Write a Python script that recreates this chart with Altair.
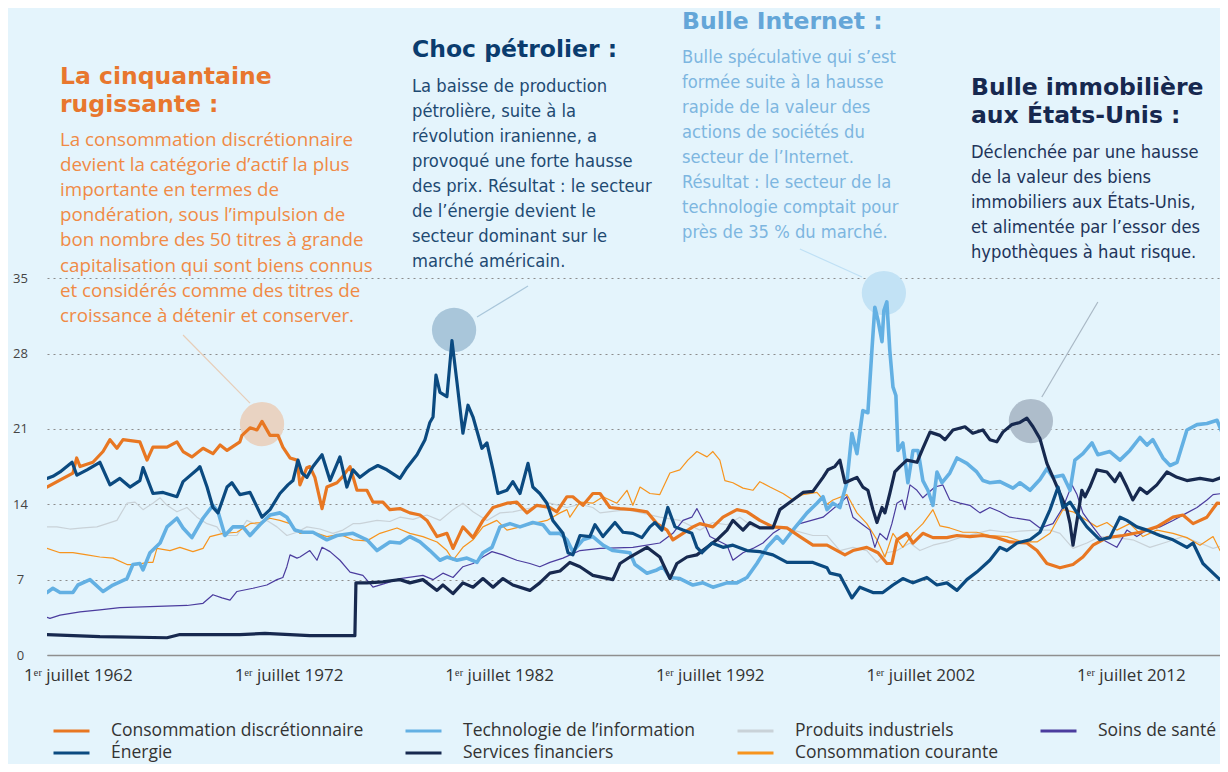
import altair as alt
import pandas as pd

# ---------------- data ----------------
SERIES = ["Consommation discrétionnaire", "Technologie de l’information", "Produits industriels",
          "Soins de santé", "Énergie", "Services financiers", "Consommation courante"]
COLORS = ["#E87722", "#63B0E3", "#C9D2D8", "#4B3C9E", "#0B4A80", "#17294F", "#F7941D"]

CD_YEARS = [1961.03, 1962.26, 1962.44, 1962.60, 1963.21, 1963.69, 1964.02, 1964.35, 1964.64, 1965.44, 1965.78, 1966.06,
            1966.73, 1967.20, 1967.49, 1967.91, 1968.44, 1968.91, 1969.25, 1969.58, 1970.19, 1970.29, 1970.67, 1971.00,
            1971.24, 1971.62, 1972.00, 1972.23, 1972.57, 1972.90, 1973.04, 1973.37, 1973.51, 1973.75, 1974.09, 1974.32,
            1974.80, 1975.04, 1975.42, 1975.75, 1976.22, 1976.51, 1976.98, 1977.31, 1977.79, 1978.26, 1978.74, 1979.07,
            1979.55, 1980.02, 1980.31, 1980.78, 1981.26, 1981.73, 1982.21, 1982.87, 1983.34, 1983.82, 1984.29, 1984.91,
            1985.24, 1985.72, 1986.00, 1986.48, 1986.95, 1987.29, 1987.76, 1988.24, 1988.85, 1989.52, 1989.99, 1990.47,
            1990.75, 1991.23, 1991.70, 1992.03, 1992.65, 1993.13, 1993.79, 1994.27, 1994.88, 1995.50, 1996.17, 1996.78,
            1997.40, 1998.07, 1998.92, 1999.30, 1999.96, 2000.49, 2000.91, 2001.15, 2001.39, 2001.86, 2002.15, 2002.62,
            2003.10, 2003.76, 2004.24, 2004.85, 2005.47, 2006.13, 2006.75, 2007.56, 2008.04, 2008.51, 2009.13, 2009.75,
            2010.22, 2010.70, 2011.36, 2012.12, 2012.93, 2013.73, 2014.50, 2014.97, 2015.45, 2016.11, 2016.59, 2017.11]
CD_VALUES = [15.6, 16.9, 18.3, 17.5, 17.9, 18.9, 20.0, 19.2, 20.0, 19.8, 18.1, 19.3,
             19.3, 19.8, 18.9, 18.4, 19.2, 18.7, 19.5, 19.0, 19.8, 20.4, 21.1, 20.9,
             21.7, 20.4, 20.4, 19.3, 18.3, 18.1, 15.8, 17.4, 17.5, 16.5, 13.6, 15.6,
             16.0, 16.5, 17.5, 15.3, 15.3, 14.2, 14.2, 13.5, 13.6, 13.2, 13.0, 12.5,
             11.0, 11.3, 9.9, 11.9, 10.9, 12.5, 13.7, 14.1, 14.2, 13.2, 13.9, 13.7,
             13.3, 14.7, 14.7, 13.9, 15.0, 15.0, 13.7, 13.6, 13.5, 13.3, 12.2, 11.6,
             10.7, 11.3, 11.9, 12.2, 11.9, 12.8, 13.5, 13.3, 12.5, 11.9, 11.8, 11.0,
             10.2, 10.2, 9.3, 9.7, 10.0, 9.5, 8.5, 8.5, 10.7, 11.3, 10.4, 11.3,
             10.9, 10.9, 11.1, 11.0, 11.1, 10.9, 10.5, 10.4, 9.7, 8.5, 8.1, 8.4,
             9.1, 10.2, 10.9, 11.1, 11.4, 11.9, 12.8, 13.0, 12.2, 12.8, 14.1, 14.0]

EN_YEARS = [1961.03, 1961.31, 1961.65, 1962.22, 1962.45, 1962.93, 1963.54, 1964.02, 1964.49, 1964.97, 1965.44, 1965.59,
            1966.06, 1966.54, 1967.20, 1967.49, 1968.15, 1968.29, 1968.63, 1968.91, 1969.15, 1969.58, 1969.81, 1970.19,
            1970.67, 1971.24, 1971.62, 1972.09, 1972.47, 1972.71, 1972.95, 1973.14, 1973.37, 1973.66, 1974.09, 1974.47,
            1974.94, 1975.27, 1975.56, 1975.89, 1976.36, 1976.74, 1977.17, 1977.79, 1978.12, 1978.60, 1978.98, 1979.21,
            1979.36, 1979.50, 1979.69, 1980.02, 1980.26, 1980.50, 1980.78, 1981.02, 1981.26, 1981.68, 1981.92, 1982.21,
            1982.44, 1982.87, 1983.15, 1983.49, 1983.87, 1984.10, 1984.43, 1984.77, 1985.05, 1985.53, 1985.77, 1986.00,
            1986.34, 1986.81, 1987.05, 1987.43, 1988.00, 1988.38, 1988.85, 1989.28, 1989.66, 1989.90, 1990.23, 1990.51,
            1990.85, 1991.23, 1991.65, 1991.89, 1992.13, 1992.60, 1993.13, 1993.60, 1994.27, 1994.88, 1995.50, 1996.17,
            1997.40, 1998.07, 1998.21, 1998.68, 1999.25, 1999.63, 2000.25, 2000.72, 2001.20, 2001.67, 2002.15, 2002.81,
            2003.29, 2003.76, 2004.24, 2004.71, 2005.18, 2005.80, 2006.28, 2006.61, 2007.09, 2007.71, 2008.18, 2008.66,
            2009.04, 2009.27, 2009.61, 2009.94, 2010.41, 2011.03, 2011.50, 2011.98, 2012.31, 2012.78, 2013.26, 2013.88,
            2014.50, 2015.16, 2015.45, 2015.92, 2016.40, 2016.73, 2017.11]
EN_VALUES = [16.4, 16.6, 17.0, 17.9, 16.7, 17.2, 17.9, 15.8, 16.4, 15.6, 16.2, 17.4,
             15.0, 15.1, 14.7, 16.1, 17.2, 17.5, 15.6, 13.7, 13.2, 15.6, 16.0, 14.9,
             15.1, 12.8, 13.5, 15.0, 15.8, 16.2, 18.1, 16.9, 16.5, 17.5, 18.6, 16.2,
             18.4, 15.6, 17.2, 16.5, 17.2, 17.6, 17.2, 16.4, 17.4, 18.6, 20.0, 21.6,
             22.1, 26.0, 24.4, 24.0, 29.2, 25.3, 20.6, 23.2, 22.1, 19.2, 19.7, 17.2,
             15.0, 15.3, 16.1, 15.0, 17.8, 15.6, 15.0, 14.1, 12.5, 11.3, 9.5, 9.3,
             11.1, 11.0, 12.1, 11.0, 12.3, 11.4, 11.3, 10.9, 11.9, 12.3, 11.6, 13.7,
             11.9, 11.6, 11.3, 10.0, 9.5, 10.4, 10.0, 10.2, 9.7, 9.6, 9.3, 8.6,
             8.6, 8.1, 7.6, 7.4, 5.3, 6.3, 5.8, 5.8, 6.5, 7.1, 6.7, 7.2,
             6.5, 6.7, 6.0, 7.0, 7.7, 8.8, 10.0, 9.7, 10.4, 10.7, 11.4, 13.5,
             15.6, 13.7, 14.2, 13.2, 11.9, 10.7, 10.9, 12.8, 12.5, 11.9, 11.6, 11.1,
             10.7, 10.0, 10.4, 8.5, 7.6, 7.0, 7.0]

IT_YEARS = [1961.03, 1961.31, 1961.65, 1962.26, 1962.50, 1963.07, 1963.69, 1964.16, 1964.83, 1965.11, 1965.44, 1965.59,
            1965.92, 1966.40, 1966.73, 1967.20, 1967.49, 1967.91, 1968.44, 1968.91, 1969.15, 1969.48, 1969.86, 1970.33,
            1970.67, 1971.14, 1971.62, 1972.09, 1972.42, 1972.80, 1973.18, 1973.66, 1974.32, 1974.80, 1975.56, 1976.22,
            1976.70, 1977.31, 1977.79, 1978.26, 1978.74, 1979.21, 1979.69, 1980.02, 1980.50, 1980.97, 1981.45, 1981.73,
            1982.16, 1982.54, 1983.01, 1983.49, 1984.10, 1984.58, 1984.91, 1985.39, 1985.72, 1986.00, 1986.48, 1986.95,
            1987.43, 1987.90, 1988.71, 1988.95, 1989.52, 1989.99, 1990.28, 1990.61, 1991.08, 1991.70, 1992.18, 1992.65,
            1993.32, 1993.79, 1994.27, 1994.74, 1995.22, 1995.69, 1995.98, 1996.45, 1997.12, 1997.59, 1997.88, 1998.07,
            1998.35, 1998.68, 1999.01, 1999.25, 1999.49, 1999.77, 2000.01, 2000.20, 2000.34, 2000.49, 2000.68, 2000.77,
            2000.91, 2001.05, 2001.20, 2001.34, 2001.44, 2001.67, 2001.91, 2002.15, 2002.39, 2002.62, 2002.86, 2003.10,
            2003.29, 2003.53, 2003.90, 2004.24, 2004.71, 2005.18, 2005.47, 2005.80, 2006.28, 2006.90, 2007.23, 2007.71,
            2008.18, 2008.51, 2008.80, 2009.27, 2009.61, 2009.84, 2010.22, 2010.65, 2010.93, 2011.50, 2011.98, 2012.45,
            2012.93, 2013.26, 2013.54, 2014.02, 2014.36, 2014.69, 2015.16, 2015.64, 2016.11, 2016.59, 2016.82, 2017.11]
IT_VALUES = [5.8, 6.2, 5.8, 5.8, 6.5, 7.0, 5.9, 6.5, 7.1, 8.4, 8.5, 7.9,
             9.5, 10.4, 11.9, 12.7, 11.8, 10.9, 12.7, 13.9, 13.3, 11.1, 11.9, 11.9,
             11.1, 12.1, 13.0, 13.2, 12.8, 11.6, 11.4, 11.4, 10.7, 11.1, 11.3, 10.7,
             9.7, 10.5, 10.4, 11.0, 10.5, 9.7, 8.8, 9.1, 8.8, 9.0, 8.6, 9.5,
             10.0, 11.9, 12.2, 11.9, 12.3, 12.1, 11.3, 11.3, 10.7, 9.6, 10.7, 11.0,
             10.2, 9.7, 9.5, 8.4, 7.6, 7.9, 8.2, 7.2, 7.1, 6.5, 6.7, 6.3,
             6.7, 6.7, 7.2, 8.5, 10.0, 11.0, 10.4, 11.6, 13.2, 14.1, 14.7, 13.5,
             14.1, 13.7, 16.0, 20.6, 18.7, 22.7, 22.5, 28.3, 32.3, 31.1, 29.1, 32.0,
             32.8, 28.3, 24.9, 24.1, 19.0, 19.7, 16.0, 19.0, 19.0, 16.2, 15.3, 13.9,
             17.0, 16.0, 16.9, 18.3, 17.8, 17.0, 16.2, 16.0, 16.1, 15.5, 16.0, 15.3,
             16.3, 17.3, 16.5, 16.7, 15.3, 18.1, 18.7, 19.7, 18.6, 18.9, 18.1, 19.0,
             20.2, 19.5, 20.0, 18.3, 17.6, 17.9, 20.9, 21.4, 21.5, 21.8, 20.7, 20.4]

FI_YEARS = [1961.03, 1963.54, 1966.73, 1967.34, 1970.19, 1971.38, 1972.57, 1973.51, 1975.65, 1975.70, 1976.22, 1976.98,
            1977.79, 1978.26, 1978.88, 1979.55, 1979.83, 1980.31, 1980.78, 1981.26, 1981.73, 1982.21, 1982.68, 1983.15,
            1983.96, 1984.43, 1984.91, 1985.39, 1985.86, 1986.34, 1986.95, 1987.90, 1988.24, 1988.71, 1989.52, 1990.13,
            1990.61, 1990.94, 1991.42, 1991.89, 1992.37, 1992.84, 1993.32, 1993.60, 1994.08, 1994.41, 1994.88, 1995.50,
            1995.83, 1996.45, 1996.93, 1997.40, 1997.88, 1998.11, 1998.44, 1998.68, 1998.92, 1999.15, 1999.49, 1999.77,
            2000.01, 2000.25, 2000.44, 2000.68, 2000.82, 2001.05, 2001.29, 2001.53, 2001.86, 2002.34, 2002.62, 2002.96,
            2003.43, 2003.67, 2004.05, 2004.62, 2004.99, 2005.47, 2005.80, 2006.13, 2006.42, 2006.85, 2007.23, 2007.56,
            2007.85, 2008.18, 2008.51, 2008.80, 2009.13, 2009.46, 2009.61, 2009.75, 2009.94, 2010.17, 2010.32, 2010.55,
            2010.88, 2011.36, 2011.74, 2011.98, 2012.31, 2012.59, 2012.93, 2013.26, 2013.73, 2014.21, 2014.69, 2015.16,
            2015.78, 2016.40, 2016.82, 2017.11]
FI_VALUES = [1.9, 1.7, 1.6, 1.9, 1.9, 2.0, 1.9, 1.8, 1.8, 6.7, 6.7, 6.8,
             7.0, 6.7, 7.0, 6.0, 6.5, 5.7, 6.7, 6.3, 7.1, 6.3, 7.1, 6.5,
             6.0, 6.7, 7.6, 7.8, 8.6, 8.2, 7.4, 7.0, 8.5, 9.1, 10.0, 9.1,
             7.1, 8.5, 9.1, 9.3, 10.0, 10.7, 11.6, 12.5, 11.6, 12.3, 11.8, 11.8,
             13.5, 14.4, 15.1, 15.2, 16.5, 17.2, 17.5, 18.1, 16.0, 16.2, 16.5, 15.6,
             15.3, 13.5, 12.3, 13.7, 13.2, 15.0, 17.0, 17.5, 18.1, 17.9, 19.2, 20.7,
             20.4, 20.0, 20.9, 21.2, 20.6, 20.9, 20.0, 19.8, 20.7, 21.4, 21.6, 22.0,
             21.2, 20.1, 17.8, 16.5, 15.0, 13.5, 12.2, 10.2, 12.5, 15.3, 14.7, 15.6,
             17.2, 17.0, 16.1, 16.9, 15.6, 14.4, 15.5, 15.0, 15.8, 17.0, 16.5, 16.2,
             16.4, 16.2, 16.5, 15.6]

IN_YEARS = [1961.03, 1961.50, 1962.12, 1962.74, 1963.40, 1963.88, 1964.35, 1964.83, 1965.21, 1965.59, 1966.06, 1966.40,
            1966.73, 1967.20, 1967.68, 1968.15, 1968.63, 1969.10, 1969.39, 1970.05, 1970.52, 1971.00, 1971.47, 1971.95,
            1972.42, 1972.90, 1973.37, 1973.99, 1974.61, 1975.08, 1975.56, 1975.89, 1976.70, 1977.31, 1977.79, 1978.41,
            1979.07, 1979.69, 1980.31, 1980.78, 1981.26, 1981.92, 1982.54, 1983.15, 1984.10, 1984.91, 1985.72, 1986.34,
            1986.95, 1987.29, 1988.57, 1990.13, 1991.08, 1992.03, 1992.65, 1993.32, 1993.93, 1994.55, 1995.50, 1996.45,
            1997.40, 1998.07, 1998.68, 1999.30, 1999.96, 2000.44, 2000.91, 2001.39, 2002.01, 2002.48, 2003.10, 2003.76,
            2004.52, 2005.18, 2005.80, 2006.61, 2007.23, 2008.04, 2008.66, 2009.13, 2009.75, 2010.41, 2011.03, 2011.83,
            2012.59, 2013.40, 2014.21, 2014.97, 2015.78, 2016.40, 2017.11]
IN_VALUES = [11.9, 11.9, 11.7, 11.8, 11.9, 12.2, 12.5, 14.1, 14.2, 13.5, 14.1, 14.6,
             13.9, 13.3, 13.7, 12.8, 12.2, 11.9, 11.1, 11.1, 12.5, 12.1, 12.5, 11.9,
             11.1, 11.4, 11.9, 11.7, 11.3, 11.6, 12.2, 12.2, 12.5, 12.4, 12.8, 12.6,
             13.0, 12.5, 13.5, 14.1, 13.3, 12.5, 13.2, 13.3, 13.7, 14.1, 13.7, 14.0,
             13.7, 13.2, 13.5, 12.8, 12.5, 11.6, 12.3, 12.1, 12.8, 11.9, 11.9, 11.6,
             11.1, 11.1, 9.7, 10.0, 9.7, 8.6, 9.5, 9.7, 10.4, 9.7, 10.2, 10.5,
             11.0, 11.3, 11.6, 11.4, 11.5, 11.6, 11.6, 11.3, 9.9, 10.4, 11.0, 10.9,
             10.7, 10.0, 10.5, 11.0, 10.4, 9.9, 10.3]

CS_YEARS = [1961.03, 1961.65, 1962.26, 1962.93, 1963.54, 1964.16, 1964.83, 1965.30, 1965.78, 1966.06, 1966.25, 1966.87,
            1967.34, 1967.96, 1968.44, 1968.77, 1969.39, 1970.05, 1970.67, 1971.14, 1971.62, 1972.09, 1972.57, 1973.04,
            1973.85, 1974.32, 1974.94, 1975.56, 1976.22, 1976.84, 1977.65, 1978.26, 1978.88, 1979.55, 1980.02, 1980.31,
            1980.78, 1981.26, 1981.73, 1982.39, 1982.87, 1983.49, 1984.10, 1984.77, 1985.39, 1985.72, 1985.86, 1986.34,
            1986.95, 1987.43, 1988.09, 1988.57, 1988.85, 1989.19, 1989.66, 1990.13, 1990.61, 1991.08, 1991.46, 1991.89,
            1992.37, 1992.65, 1992.98, 1993.22, 1993.60, 1994.08, 1994.55, 1994.88, 1995.36, 1995.98, 1996.45, 1996.93,
            1997.59, 1998.07, 1998.35, 1999.01, 1999.49, 1999.96, 2000.44, 2000.82, 2001.20, 2001.67, 2002.15, 2002.62,
            2003.10, 2003.43, 2003.90, 2004.52, 2005.18, 2005.80, 2006.61, 2007.37, 2008.04, 2008.66, 2008.99, 2009.27,
            2009.75, 2010.41, 2010.88, 2011.36, 2011.83, 2012.45, 2013.07, 2013.73, 2014.50, 2015.16, 2015.78, 2016.40,
            2016.73, 2017.11]
CS_VALUES = [9.9, 9.5, 9.5, 9.3, 9.1, 9.0, 8.4, 8.4, 8.6, 8.6, 9.9, 9.7,
             10.0, 9.6, 9.9, 11.0, 11.3, 11.4, 12.2, 12.3, 12.7, 12.5, 12.2, 11.3,
             11.3, 11.0, 11.2, 10.7, 10.6, 11.3, 11.8, 11.3, 11.0, 10.5, 9.7, 8.8,
             10.0, 10.7, 11.9, 12.5, 11.6, 11.9, 12.2, 12.5, 13.2, 13.5, 12.8, 14.2,
             14.1, 14.7, 14.1, 15.3, 13.9, 15.6, 15.0, 14.9, 16.9, 17.2, 18.1, 18.9,
             18.4, 18.9, 18.1, 16.2, 16.0, 15.5, 15.3, 16.1, 15.6, 15.0, 14.4, 14.9,
             15.1, 14.0, 14.4, 14.9, 13.2, 12.2, 10.7, 9.1, 11.3, 10.0, 11.3, 12.2,
             13.5, 12.0, 11.8, 11.4, 11.4, 11.1, 11.0, 10.5, 10.5, 11.3, 12.5, 13.5,
             13.3, 12.5, 11.9, 12.3, 11.6, 12.2, 11.0, 11.6, 11.3, 10.9, 10.2, 11.0,
             9.7, 10.7]

HC_YEARS = [1961.03, 1961.17, 1961.65, 1962.60, 1963.54, 1964.49, 1965.92, 1967.68, 1968.44, 1968.91, 1969.34, 1969.72,
            1970.05, 1970.81, 1971.47, 1971.95, 1972.23, 1972.42, 1972.57, 1972.90, 1973.04, 1973.51, 1973.85, 1974.09,
            1974.47, 1974.94, 1975.42, 1976.03, 1976.51, 1977.17, 1977.79, 1978.88, 1979.36, 1979.83, 1980.31, 1980.78,
            1981.26, 1981.73, 1982.16, 1982.68, 1983.34, 1983.96, 1984.43, 1984.91, 1985.53, 1986.34, 1987.29, 1988.85,
            1990.13, 1990.75, 1991.23, 1991.65, 1991.89, 1992.18, 1992.51, 1993.32, 1993.60, 1994.08, 1994.55, 1995.03,
            1995.50, 1995.98, 1996.45, 1996.78, 1997.88, 1998.68, 1999.01, 1999.30, 1999.77, 2000.11, 2000.34, 2000.58,
            2000.91, 2001.15, 2001.39, 2001.63, 2001.77, 2002.01, 2002.34, 2002.62, 2003.19, 2003.57, 2003.90, 2004.38,
            2004.85, 2005.33, 2005.80, 2006.28, 2006.75, 2007.71, 2008.18, 2008.80, 2009.27, 2009.70, 2009.94, 2010.22,
            2010.70, 2011.17, 2011.83, 2012.31, 2012.78, 2013.26, 2013.88, 2014.50, 2015.16, 2015.64, 2016.11, 2016.40,
            2016.82, 2017.11]
HC_VALUES = [3.5, 3.4, 3.7, 4.0, 4.2, 4.4, 4.5, 4.6, 4.8, 5.6, 5.3, 5.1,
             5.9, 6.2, 6.5, 7.0, 7.2, 8.2, 9.3, 9.0, 9.1, 9.7, 8.8, 10.0,
             9.6, 8.8, 7.7, 7.4, 6.3, 6.7, 7.1, 7.4, 7.0, 7.6, 7.2, 8.2,
             8.5, 9.1, 9.6, 9.3, 8.8, 8.5, 8.2, 8.6, 9.0, 9.7, 9.9, 10.0,
             10.4, 11.3, 12.5, 12.8, 13.6, 12.5, 11.0, 10.2, 8.8, 9.5, 9.9, 10.4,
             11.3, 11.9, 11.6, 12.2, 12.8, 14.1, 14.7, 12.8, 12.1, 11.6, 10.0, 11.3,
             10.7, 12.2, 14.1, 14.4, 13.5, 15.8, 15.3, 14.6, 15.6, 15.8, 14.4, 14.1,
             13.9, 13.2, 13.7, 13.3, 12.8, 12.5, 11.8, 12.2, 13.7, 15.8, 14.9, 13.2,
             11.9, 10.7, 10.0, 11.6, 11.0, 11.6, 11.9, 12.5, 13.2, 13.7, 14.4, 14.9,
             15.0, 14.7]

# draw order (bottom to top) with stroke widths
DRAW = [("Produits industriels", IN_YEARS, IN_VALUES, 1.2),
        ("Consommation courante", CS_YEARS, CS_VALUES, 1.2),
        ("Soins de santé", HC_YEARS, HC_VALUES, 1.2),
        ("Technologie de l’information", IT_YEARS, IT_VALUES, 3.6),
        ("Consommation discrétionnaire", CD_YEARS, CD_VALUES, 3.2),
        ("Services financiers", FI_YEARS, FI_VALUES, 3.2),
        ("Énergie", EN_YEARS, EN_VALUES, 3.2)]

# highlight circles & connectors (year, value)
HL_YEARS = [1971.24, 1980.36, 2000.77, 2007.75]
HL_VALUES = [21.45, 30.19, 33.62, 21.73]
HL_COLORS = ["#E9D3C2", "#A9C6DA", "#C2E2F5", "#AEBDCB"]
CN_X1 = [1967.49, 1981.45, 1996.78, 2008.27]
CN_Y1 = [29.72, 31.39, 37.71, 23.96]
CN_X2 = [1970.67, 1983.87, 1999.73, 2010.93]
CN_Y2 = [23.40, 34.27, 35.11, 32.79]
CN_COLORS = ["#E7CDB8", "#A9C6DA", "#BFE0F5", "#A9B8C5"]

Y_TICKS = [0, 7, 14, 21, 28, 35]
X_TICKS = [1962.5, 1972.5, 1982.5, 1992.5, 2002.5, 2012.5]

rows = []
for name, ys, vs, _w in DRAW:
    for a, b in zip(ys, vs):
        rows.append({"series": name, "year": a, "value": b})
df = pd.DataFrame(rows)

X_DOMAIN = [1961.03, 2016.73]

x_enc = alt.X("year:Q", scale=alt.Scale(domain=X_DOMAIN, nice=False, zero=False),
              axis=alt.Axis(values=X_TICKS, labelExpr="'1ᵉʳ juillet ' + floor(datum.value)", title=None,
                            grid=False, ticks=False, domain=True, domainColor="#8f8f8f", domainWidth=1.5,
                            labelPadding=12, labelFont="Open Sans", labelFontSize=17, labelColor="#333333",
                            labelFlush=False, labelOverlap=False))
y_enc = alt.Y("value:Q", scale=alt.Scale(domain=[0, 60], nice=False, zero=True),
              axis=alt.Axis(values=Y_TICKS, title=None, domain=False, ticks=False, tickSize=0, labelPadding=27,
                            labelAlign="center", labelBaseline="middle", labelFont="Open Sans", labelFontSize=13,
                            labelColor="#444444", grid=True, gridColor="#8c8c8c", gridDash=[2, 4], gridWidth=1))
color_enc = alt.Color("series:N", scale=alt.Scale(domain=SERIES, range=COLORS),
                      legend=alt.Legend(orient="none", legendX=5, legendY=712, columns=4, direction="horizontal",
                                        symbolType="stroke", symbolSize=1296, symbolStrokeWidth=3,
                                        labelFont="Open Sans", labelFontSize=17.5, labelColor="#333333",
                                        labelLimit=500, labelOffset=20, columnPadding=40, rowPadding=2,
                                        clipHeight=20, title=None, padding=0))

line_layers = []
for name, _ys, _vs, w in DRAW:
    line_layers.append(
        alt.Chart(df).transform_filter(alt.datum.series == name)
        .mark_line(strokeWidth=w, strokeJoin="round", strokeCap="round", clip=True)
        .encode(x=x_enc, y=y_enc, color=color_enc)
    )

hl_df = pd.DataFrame({"year": HL_YEARS, "value": HL_VALUES, "c": HL_COLORS})
circles = alt.Chart(hl_df).mark_circle(size=1960, opacity=1).encode(
    x=alt.X("year:Q"), y=alt.Y("value:Q"), fill=alt.Fill("c:N", scale=None))

cn_df = pd.DataFrame({"x1": CN_X1, "y1": CN_Y1, "x2": CN_X2, "y2": CN_Y2, "c": CN_COLORS})
connectors = alt.Chart(cn_df).mark_rule(strokeWidth=1.2).encode(
    x="x1:Q", y="y1:Q", x2="x2:Q", y2="y2:Q", stroke=alt.Stroke("c:N", scale=None))

one = pd.DataFrame({"k": [0]})
HEAD_FONT = "DejaVu Sans"
NARROW = "Liberation Sans Narrow, Arial Narrow, DejaVu Sans Condensed, sans-serif"


def block(lines, x, y, font, size, weight, color, lh=25):
    return alt.Chart(one).mark_text(text=lines, align="left", baseline="alphabetic", font=font, fontSize=size,
                                    fontWeight=weight, color=color, lineHeight=lh).encode(
        x=alt.value(x), y=alt.value(y))


texts = [
    block(["La cinquantaine", "rugissante :"], 13, 75, HEAD_FONT, 23.5, "bold", "#E8772E", 28),
    block(["La consommation discrétionnaire", "devient la catégorie d’actif la plus", "importante en termes de",
           "pondération, sous l’impulsion de", "bon nombre des 50 titres à grande",
           "capitalisation qui sont biens connus", "et considérés comme des titres de",
           "croissance à détenir et conserver."], 13, 137, "Open Sans", 18.8, 400, "#F08A45", 25.1),
    block(["Choc pétrolier :"], 365, 48, HEAD_FONT, 23.5, "bold", "#0B3C6E"),
    block(["La baisse de production", "pétrolière, suite à la", "révolution iranienne, a",
           "provoqué une forte hausse", "des prix. Résultat : le secteur", "de l’énergie devient le",
           "secteur dominant sur le", "marché américain."], 365, 83, NARROW, 18.2, 400, "#1E4A72"),
    block(["Bulle Internet :"], 635, 20, HEAD_FONT, 23.5, "bold", "#64A6D8"),
    block(["Bulle spéculative qui s’est", "formée suite à la hausse", "rapide de la valeur des",
           "actions de sociétés du", "secteur de l’Internet.", "Résultat : le secteur de la",
           "technologie comptait pour", "près de 35 % du marché."], 635, 54, NARROW, 18.2, 400, "#7DB6E0"),
    block(["Bulle immobilière", "aux États-Unis :"], 924, 86, HEAD_FONT, 23.5, "bold", "#16284F", 28),
    block(["Déclenchée par une hausse", "de la valeur des biens", "immobiliers aux États-Unis,",
           "et alimentée par l’essor des", "hypothèques à haut risque."], 924, 149, NARROW, 18.2, 400, "#22345A"),
]

chart = alt.layer(circles, connectors, *line_layers, *texts).properties(
    width=1173, height=646,
    autosize=alt.AutoSizeParams(type="none"),
    padding={"left": 39, "top": 1, "right": 0, "bottom": 109},
    background="#E4F4FC",
).configure_view(stroke=None)

chart.save("out.html", embed_options={"renderer": "svg", "actions": False})
